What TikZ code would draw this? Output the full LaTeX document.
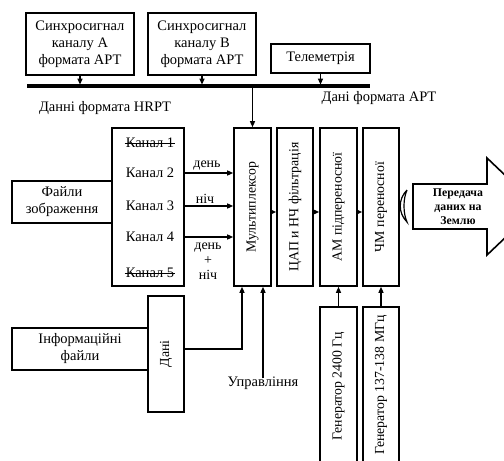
\documentclass[tikz,border=0pt]{standalone}
\usepackage{fontspec}
\setmainfont{Liberation Serif}
\usetikzlibrary{arrows.meta}

\begin{document}
\begin{tikzpicture}[x=1pt,y=-1pt,
  box/.style={draw, line width=1.6pt, fill=white, inner sep=0pt, align=center,
              font=\fontsize{14.5}{17}\selectfont},
  txt/.style={inner sep=1pt, align=center, font=\fontsize{14.5}{17}\selectfont},
  vtxt/.style={inner sep=0pt, rotate=90, font=\fontsize{13.8}{16}\selectfont},
  small/.style={inner sep=1pt, align=center, font=\fontsize{14}{15}\selectfont},
  arr/.style={line width=1.3pt, -{Triangle[length=6pt,width=5pt]}},
  strike/.style={line width=1.1pt}]
\useasboundingbox (0,0) rectangle (504,461);

% sync sources and telemetry feeding the bus
\node[box, minimum width=108pt, minimum height=62pt] (sa) at (80,44)
  {Синхросигнал\\каналу А\\формата АРТ};
\node[box, minimum width=108pt, minimum height=62pt] (sb) at (202,44)
  {Синхросигнал\\каналу В\\формата АРТ};
\node[box, minimum width=99pt, minimum height=29pt] (tel) at (320.5,58.5) {Телеметрія};

\coordinate (busL) at (27,86);
\coordinate (busR) at (370,86);
\draw[line width=3.2pt] (busL) -- (busR);
\draw[arr, shorten >=1.4pt] (sa.south) -- (sa.south |- busL);
\draw[arr, shorten >=1.4pt] (sb.south) -- (sb.south |- busL);
\draw[arr, shorten >=1.4pt] (tel.south) -- (tel.south |- busL);

\node[txt] (hrpt) at (105,108) {Данні формата HRPT};
\node[txt] (apt) at (379,98) {Дані формата АРТ};

% image files and channel selector
\node[box, minimum width=100pt, minimum height=42pt] (files) at (62,202) {Файли\\зображення};
\node[box, minimum width=72pt, minimum height=158pt] (chan) at (148,207) {};
\node[txt] (c1) at (150,143) {Канал 1};
\node[txt] (c2) at (150,173) {Канал 2};
\node[txt] (c3) at (150,206) {Канал 3};
\node[txt] (c4) at (150,237) {Канал 4};
\node[txt] (c5) at (150,273) {Канал 5};
\draw[strike] ([yshift=-0.5pt]c1.west) -- ([yshift=-0.5pt]c1.east);
\draw[strike] ([yshift=-0.5pt]c5.west) -- ([yshift=-0.5pt]c5.east);

% processing chain
\node[box, minimum width=37pt, minimum height=158pt] (mux) at (252.5,207) {};
\node[vtxt] at (mux) {Мультиплексор};
\node[box, minimum width=36pt, minimum height=158pt] (dac) at (295,207) {};
\node[vtxt] at (dac) {ЦАП и НЧ фільтрація};
\node[box, minimum width=37pt, minimum height=158pt] (am) at (338.5,207) {};
\node[vtxt] at (am) {АМ підпереносної};
\node[box, minimum width=36pt, minimum height=158pt] (fm) at (381,207) {};
\node[vtxt] at (fm) {ЧМ переносної};

\draw[arr] (mux.north |- busL) -- (mux.north);

\coordinate (k2) at (chan.east |- c2);
\coordinate (k3) at (chan.east |- c3);
\coordinate (k4) at (chan.east |- c4);
\draw[arr] (k2) -- (mux.west |- k2);
\draw[arr] (k3) -- (mux.west |- k3);
\draw[arr] (k4) -- (mux.west |- k4);
\node[small] (lday) at (207,166) {день};
\node[small] (lnight) at (205,199) {ніч};
\node[small] (lboth) at (208,261) {день\\+\\ніч};

\draw[arr] ([yshift=-5pt]mux.east) -- ([yshift=-5pt]dac.west);
\draw[arr] ([yshift=-5pt]dac.east) -- ([yshift=-5pt]am.west);
\draw[arr] ([yshift=-5pt]am.east) -- ([yshift=-5pt]fm.west);

% antenna and downlink arrow
\draw[line width=1.2pt, fill=white] (407,190) .. controls (398,199) and (398,213) .. (407,222)
  .. controls (403,213) and (403,199) .. (407,190);
\draw[line width=1.6pt, fill=white] (413,184) -- (487,184) -- (487,158) -- (538,206.5)
  -- (487,255) -- (487,229) -- (413,229) -- cycle;
\node[inner sep=0pt, align=center, font=\bfseries\fontsize{11.8}{14}\selectfont] (down) at (458,207)
  {Передача\\даних на\\Землю};

% information files
\node[box, minimum width=136pt, minimum height=42pt] (info) at (80,349) {Інформаційні\\файли};
\node[box, minimum width=36pt, minimum height=116pt] (dani) at (166,354) {};
\node[vtxt] at (dani) {Дані};
\draw[arr] (dani.east |- info.east) -| ([xshift=-10.5pt]mux.south);

\node[txt, inner sep=2pt] (ctl) at (263,383) {Управління};
\draw[arr] ([yshift=-4pt]ctl.north) -- ([xshift=10.5pt]mux.south);

% oscillators
\node[box, minimum width=37pt, minimum height=163pt] (g1) at (338.5,388.5) {};
\node[vtxt] at (338.5,386) {Генератор 2400 Гц};
\node[box, minimum width=36pt, minimum height=163pt] (g2) at (381,388.5) {};
\node[vtxt] at (381,385) {Генератор 137-138 МГц};
\draw[arr] (g1.north) -- (am.south);
\draw[arr] (g2.north) -- (fm.south);
\end{tikzpicture}
\end{document}
